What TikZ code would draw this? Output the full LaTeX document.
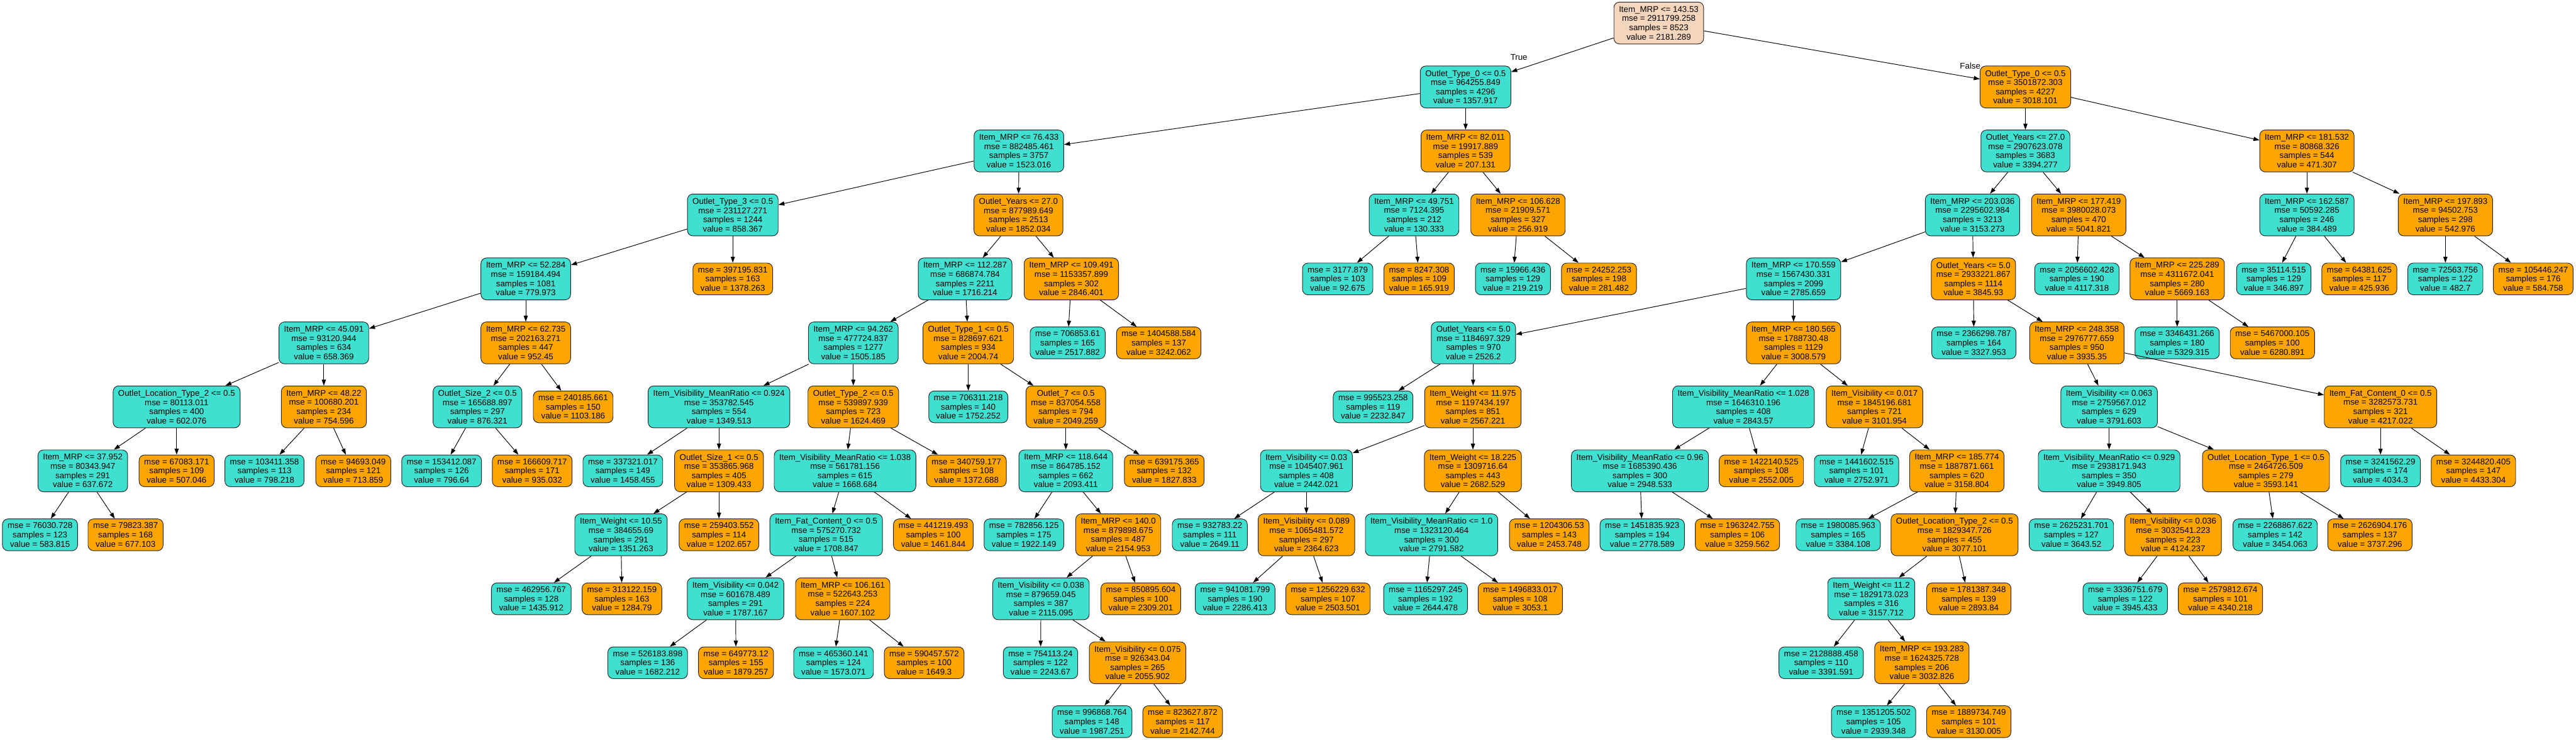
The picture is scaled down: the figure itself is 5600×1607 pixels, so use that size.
\documentclass[tikz,border=0pt]{standalone}
\usepackage{fontspec}
\setmainfont{Liberation Sans}
\usetikzlibrary{arrows.meta}
\definecolor{tqc}{HTML}{40E0D0}
\definecolor{ogc}{HTML}{FFA500}
\definecolor{rootc}{HTML}{F6D5BD}
\newcommand\boxfont{\fontsize{9.1pt}{10pt}\selectfont}
\tikzset{
  box/.style={draw=black!85, line width=0.65pt, rounded corners=6pt, align=center, inner xsep=5.5pt, inner ysep=2pt, font=\boxfont},
  intbox/.style={box, minimum height=45.5pt},
  leafbox/.style={box, minimum height=34.5pt},
  edge/.style={-{Triangle[length=6.5pt,width=4.5pt]}, line width=0.65pt, draw=black},
  elabel/.style={font=\boxfont, inner sep=0pt}
}
\newcommand\nI[8]{\node[intbox,fill=#2] (#1) at (#3,#4) {#5\\mse = #6\\samples = #7\\value = #8};}
\newcommand\nL[7]{\node[leafbox,fill=#2] (#1) at (#3,#4) {mse = #5\\samples = #6\\value = #7};}
\begin{document}
\begin{tikzpicture}[x=0.5pt,y=-0.5pt]
\fill[white] (0,0) rectangle (5600,1607);
\useasboundingbox (0,0) rectangle (5600,1607);
% rank 0
\nI{r}{rootc}{3606}{50}{Item\_MRP <= 143.53}{2911799.258}{8523}{2181.289}
% rank 1
\nI{a}{tqc}{3186}{189}{Outlet\_Type\_0 <= 0.5}{964255.849}{4296}{1357.917}
\nI{b}{ogc}{4403}{189}{Outlet\_Type\_0 <= 0.5}{3501872.303}{4227}{3018.101}
% rank 2
\nI{aa}{tqc}{2215}{328}{Item\_MRP <= 76.433}{882485.461}{3757}{1523.016}
\nI{ab}{ogc}{3186}{328}{Item\_MRP <= 82.011}{19917.889}{539}{207.131}
\nI{ba}{tqc}{4403}{328}{Outlet\_Years <= 27.0}{2907623.078}{3683}{3394.277}
\nI{bb}{ogc}{5015}{328}{Item\_MRP <= 181.532}{80868.326}{544}{471.307}
% rank 3
\nI{aaa}{tqc}{1593}{467}{Outlet\_Type\_3 <= 0.5}{231127.271}{1244}{858.367}
\nI{aab}{ogc}{2214}{467}{Outlet\_Years <= 27.0}{877989.649}{2513}{1852.034}
\nI{aba}{tqc}{3074}{467}{Item\_MRP <= 49.751}{7124.395}{212}{130.333}
\nI{abb}{ogc}{3300}{467}{Item\_MRP <= 106.628}{21909.571}{327}{256.919}
\nI{baa}{tqc}{4288}{467}{Item\_MRP <= 203.036}{2295602.984}{3213}{3153.273}
\nI{bab}{ogc}{4519}{467}{Item\_MRP <= 177.419}{3980028.073}{470}{5041.821}
\nI{bba}{tqc}{5015}{467}{Item\_MRP <= 162.587}{50592.285}{246}{384.489}
\nI{bbb}{ogc}{5316}{467}{Item\_MRP <= 197.893}{94502.753}{298}{542.976}
% rank 4
\nI{aaaa}{tqc}{1143}{606}{Item\_MRP <= 52.284}{159184.494}{1081}{779.973}
\nL{aaab}{ogc}{1593}{606}{397195.831}{163}{1378.263}
\nI{aaba}{tqc}{2098}{606}{Item\_MRP <= 112.287}{686874.784}{2211}{1716.214}
\nI{aabb}{ogc}{2329}{606}{Item\_MRP <= 109.491}{1153357.899}{302}{2846.401}
\nL{abaa}{tqc}{2908}{606}{3177.879}{103}{92.675}
\nL{abab}{ogc}{3085}{606}{8247.308}{109}{165.919}
\nL{abba}{tqc}{3289}{606}{15966.436}{129}{219.219}
\nL{abbb}{ogc}{3476}{606}{24252.253}{198}{281.482}
\nI{baaa}{tqc}{3899}{606}{Item\_MRP <= 170.559}{1567430.331}{2099}{2785.659}
\nI{baab}{ogc}{4290}{606}{Outlet\_Years <= 5.0}{2933221.867}{1114}{3845.93}
\nL{baba}{tqc}{4515}{606}{2056602.428}{190}{4117.318}
\nI{babb}{ogc}{4733}{606}{Item\_MRP <= 225.289}{4311672.041}{280}{5669.163}
\nL{bbaa}{tqc}{4943}{606}{35114.515}{129}{346.897}
\nL{bbab}{ogc}{5129}{606}{64381.625}{117}{425.936}
\nL{bbba}{tqc}{5316}{606}{72563.756}{122}{482.7}
\nL{bbbb}{ogc}{5507}{606}{105446.247}{176}{584.758}
% rank 5
\nI{aaaaa}{tqc}{704}{745}{Item\_MRP <= 45.091}{93120.944}{634}{658.369}
\nI{aaaab}{ogc}{1143}{745}{Item\_MRP <= 62.735}{202163.271}{447}{952.45}
\nI{aabaa}{tqc}{1855}{745}{Item\_MRP <= 94.262}{477724.837}{1277}{1505.185}
\nI{aabab}{ogc}{2105}{745}{Outlet\_Type\_1 <= 0.5}{828697.621}{934}{2004.74}
\nL{aabba}{tqc}{2321}{745}{706853.61}{165}{2517.882}
\nL{aabbb}{ogc}{2519}{745}{1404588.584}{137}{3242.062}
\nI{baaaa}{tqc}{3203}{745}{Outlet\_Years <= 5.0}{1184697.329}{970}{2526.2}
\nI{baaab}{ogc}{3899}{745}{Item\_MRP <= 180.565}{1788730.48}{1129}{3008.579}
\nL{baaba}{tqc}{4291}{745}{2366298.787}{164}{3327.953}
\nI{baabb}{ogc}{4515}{745}{Item\_MRP <= 248.358}{2976777.659}{950}{3935.35}
\nL{babba}{tqc}{4733}{745}{3346431.266}{180}{5329.315}
\nL{babbb}{ogc}{4940}{745}{5467000.105}{100}{6280.891}
% rank 6
\nI{s6a}{tqc}{384}{884}{Outlet\_Location\_Type\_2 <= 0.5}{80113.011}{400}{602.076}
\nI{s6b}{ogc}{704}{884}{Item\_MRP <= 48.22}{100680.201}{234}{754.596}
\nI{s6c}{tqc}{1038}{884}{Outlet\_Size\_2 <= 0.5}{165688.897}{297}{876.321}
\nL{s6d}{ogc}{1246}{884}{240185.661}{150}{1103.186}
\nI{s6e}{tqc}{1563}{884}{Item\_Visibility\_MeanRatio <= 0.924}{353782.545}{554}{1349.513}
\nI{s6f}{ogc}{1855}{884}{Outlet\_Type\_2 <= 0.5}{539897.939}{723}{1624.469}
\nL{s6g}{tqc}{2105}{884}{706311.218}{140}{1752.252}
\nI{s6h}{ogc}{2317}{884}{Outlet\_7 <= 0.5}{837054.558}{794}{2049.259}
\nL{s6i}{tqc}{2985}{884}{995523.258}{119}{2232.847}
\nI{s6j}{ogc}{3202}{884}{Item\_Weight <= 11.975}{1197434.197}{851}{2567.221}
\nI{s6k}{tqc}{3790}{884}{Item\_Visibility\_MeanRatio <= 1.028}{1646310.196}{408}{2843.57}
\nI{s6l}{ogc}{4075}{884}{Item\_Visibility <= 0.017}{1845196.681}{721}{3101.954}
\nI{s6m}{tqc}{4585}{884}{Item\_Visibility <= 0.063}{2759567.012}{629}{3791.603}
\nI{s6n}{ogc}{5175}{884}{Item\_Fat\_Content\_0 <= 0.5}{3282573.731}{321}{4217.022}
% rank 7
\nI{s7a}{tqc}{180}{1023}{Item\_MRP <= 37.952}{80343.947}{291}{637.672}
\nL{s7b}{ogc}{384}{1023}{67083.171}{109}{507.046}
\nL{s7c}{tqc}{575}{1023}{103411.358}{113}{798.218}
\nL{s7d}{ogc}{768}{1023}{94693.049}{121}{713.859}
\nL{s7e}{tqc}{960}{1023}{153412.087}{126}{796.64}
\nL{s7f}{ogc}{1157}{1023}{166609.717}{171}{935.032}
\nL{s7g}{tqc}{1354}{1023}{337321.017}{149}{1458.455}
\nI{s7h}{ogc}{1563}{1023}{Outlet\_Size\_1 <= 0.5}{353865.968}{405}{1309.433}
\nI{s7i}{tqc}{1837}{1023}{Item\_Visibility\_MeanRatio <= 1.038}{561781.156}{615}{1668.684}
\nL{s7j}{ogc}{2101}{1023}{340759.177}{108}{1372.688}
\nI{s7k}{tqc}{2317}{1023}{Item\_MRP <= 118.644}{864785.152}{662}{2093.411}
\nL{s7l}{ogc}{2531}{1023}{639175.365}{132}{1827.833}
\nI{s7m}{tqc}{2840}{1023}{Item\_Visibility <= 0.03}{1045407.961}{408}{2442.021}
\nI{s7n}{ogc}{3202}{1023}{Item\_Weight <= 18.225}{1309716.64}{443}{2682.529}
\nI{s7o}{tqc}{3565}{1023}{Item\_Visibility\_MeanRatio <= 0.96}{1685390.436}{300}{2948.533}
\nL{s7p}{ogc}{3829}{1023}{1422140.525}{108}{2552.005}
\nL{s7q}{tqc}{4036}{1023}{1441602.515}{101}{2752.971}
\nI{s7r}{ogc}{4254}{1023}{Item\_MRP <= 185.774}{1887871.661}{620}{3158.804}
\nI{s7s}{tqc}{4585}{1023}{Item\_Visibility\_MeanRatio <= 0.929}{2938171.943}{350}{3949.805}
\nI{s7t}{ogc}{4926}{1023}{Outlet\_Location\_Type\_1 <= 0.5}{2464726.509}{279}{3593.141}
\nL{s7u}{tqc}{5175}{1023}{3241562.29}{174}{4034.3}
\nL{s7v}{ogc}{5377}{1023}{3244820.405}{147}{4433.304}
% rank 8
\nL{s8a}{tqc}{87}{1162}{76030.728}{123}{583.815}
\nL{s8b}{ogc}{273}{1162}{79823.387}{168}{677.103}
\nI{s8c}{tqc}{1350}{1162}{Item\_Weight <= 10.55}{384655.69}{291}{1351.263}
\nL{s8d}{ogc}{1563}{1162}{259403.552}{114}{1202.657}
\nI{s8e}{tqc}{1796}{1162}{Item\_Fat\_Content\_0 <= 0.5}{575270.732}{515}{1708.847}
\nL{s8f}{ogc}{2029}{1162}{441219.493}{100}{1461.844}
\nL{s8g}{tqc}{2226}{1162}{782856.125}{175}{1922.149}
\nI{s8h}{ogc}{2431}{1162}{Item\_MRP <= 140.0}{879898.675}{487}{2154.953}
\nL{s8i}{tqc}{2630}{1162}{932783.22}{111}{2649.11}
\nI{s8j}{ogc}{2840}{1162}{Item\_Visibility <= 0.089}{1065481.572}{297}{2364.623}
\nI{s8k}{tqc}{3112}{1162}{Item\_Visibility\_MeanRatio <= 1.0}{1323120.464}{300}{2791.582}
\nL{s8l}{ogc}{3368}{1162}{1204306.53}{143}{2453.748}
\nL{s8m}{tqc}{3570}{1162}{1451835.923}{194}{2778.589}
\nL{s8n}{ogc}{3777}{1162}{1963242.755}{106}{3259.562}
\nL{s8o}{tqc}{3996}{1162}{1980085.963}{165}{3384.108}
\nI{s8p}{ogc}{4249}{1162}{Outlet\_Location\_Type\_2 <= 0.5}{1829347.726}{455}{3077.101}
\nL{s8q}{tqc}{4503}{1162}{2625231.701}{127}{3643.52}
\nI{s8r}{ogc}{4724}{1162}{Item\_Visibility <= 0.036}{3032541.223}{223}{4124.237}
\nL{s8s}{tqc}{4946}{1162}{2268867.622}{142}{3454.063}
\nL{s8t}{ogc}{5152}{1162}{2626904.176}{137}{3737.296}
% rank 9
\nL{s9a}{tqc}{1155}{1301}{462956.767}{128}{1435.912}
\nL{s9b}{ogc}{1352}{1301}{313122.159}{163}{1284.79}
\nI{s9c}{tqc}{1599}{1301}{Item\_Visibility <= 0.042}{601678.489}{291}{1787.167}
\nI{s9d}{ogc}{1832}{1301}{Item\_MRP <= 106.161}{522643.253}{224}{1607.102}
\nI{s9e}{tqc}{2263}{1301}{Item\_Visibility <= 0.038}{879659.045}{387}{2115.095}
\nL{s9f}{ogc}{2480}{1301}{850895.604}{100}{2309.201}
\nL{s9g}{tqc}{2685}{1301}{941081.799}{190}{2286.413}
\nL{s9h}{ogc}{2887}{1301}{1256229.632}{107}{2503.501}
\nL{s9i}{tqc}{3099}{1301}{1165297.245}{192}{2644.478}
\nL{s9j}{ogc}{3305}{1301}{1496833.017}{108}{3053.1}
\nI{s9k}{tqc}{4068}{1301}{Item\_Weight <= 11.2}{1829173.023}{316}{3157.712}
\nL{s9l}{ogc}{4280}{1301}{1781387.348}{139}{2893.84}
\nL{s9m}{tqc}{4620}{1301}{3336751.679}{122}{3945.433}
\nL{s9n}{ogc}{4827}{1301}{2579812.674}{101}{4340.218}
% rank 10
\nL{s10a}{tqc}{1408}{1440}{526183.898}{136}{1682.212}
\nL{s10b}{ogc}{1600}{1440}{649773.12}{155}{1879.257}
\nL{s10c}{tqc}{1812}{1440}{465360.141}{124}{1573.071}
\nL{s10d}{ogc}{2009}{1440}{590457.572}{100}{1649.3}
\nL{s10e}{tqc}{2262}{1440}{754113.24}{122}{2243.67}
\nI{s10f}{ogc}{2473}{1440}{Item\_Visibility <= 0.075}{926343.04}{265}{2055.902}
\nL{s10g}{tqc}{3959}{1440}{2128888.458}{110}{3391.591}
\nI{s10h}{ogc}{4178}{1440}{Item\_MRP <= 193.283}{1624325.728}{206}{3032.826}
% rank 11
\nL{s11a}{tqc}{2374}{1568}{996868.764}{148}{1987.251}
\nL{s11b}{ogc}{2571}{1568}{823627.872}{117}{2142.744}
\nL{s11c}{tqc}{4073}{1568}{1351205.502}{105}{2939.348}
\nL{s11d}{ogc}{4280}{1568}{1889734.749}{101}{3130.005}
% edges
\foreach \p/\c in {r/a, r/b, a/aa, a/ab, b/ba, b/bb,
  aa/aaa, aa/aab, ab/aba, ab/abb, ba/baa, ba/bab, bb/bba, bb/bbb,
  aaa/aaaa, aaa/aaab, aab/aaba, aab/aabb, aba/abaa, aba/abab, abb/abba, abb/abbb,
  baa/baaa, baa/baab, bab/baba, bab/babb, bba/bbaa, bba/bbab, bbb/bbba, bbb/bbbb,
  aaaa/aaaaa, aaaa/aaaab, aaba/aabaa, aaba/aabab, aabb/aabba, aabb/aabbb,
  baaa/baaaa, baaa/baaab, baab/baaba, baab/baabb, babb/babba, babb/babbb,
  aaaaa/s6a, aaaaa/s6b, aaaab/s6c, aaaab/s6d, aabaa/s6e, aabaa/s6f, aabab/s6g, aabab/s6h,
  baaaa/s6i, baaaa/s6j, baaab/s6k, baaab/s6l, baabb/s6m, baabb/s6n,
  s6a/s7a, s6a/s7b, s6b/s7c, s6b/s7d, s6c/s7e, s6c/s7f, s6e/s7g, s6e/s7h,
  s6f/s7i, s6f/s7j, s6h/s7k, s6h/s7l, s6j/s7m, s6j/s7n, s6k/s7o, s6k/s7p,
  s6l/s7q, s6l/s7r, s6m/s7s, s6m/s7t, s6n/s7u, s6n/s7v,
  s7a/s8a, s7a/s8b, s7h/s8c, s7h/s8d, s7i/s8e, s7i/s8f, s7k/s8g, s7k/s8h,
  s7m/s8i, s7m/s8j, s7n/s8k, s7n/s8l, s7o/s8m, s7o/s8n, s7r/s8o, s7r/s8p,
  s7s/s8q, s7s/s8r, s7t/s8s, s7t/s8t,
  s8c/s9a, s8c/s9b, s8e/s9c, s8e/s9d, s8h/s9e, s8h/s9f, s8j/s9g, s8j/s9h,
  s8k/s9i, s8k/s9j, s8p/s9k, s8p/s9l, s8r/s9m, s8r/s9n,
  s9c/s10a, s9c/s10b, s9d/s10c, s9d/s10d, s9e/s10e, s9e/s10f, s9k/s10g, s9k/s10h,
  s10f/s11a, s10f/s11b, s10h/s11c, s10h/s11d}
  \draw[edge] (\p) -- (\c);
\node[elabel] (tl) at (3302,125) {True};
\node[elabel] (fl) at (4283,143) {False};
\end{tikzpicture}
\end{document}
